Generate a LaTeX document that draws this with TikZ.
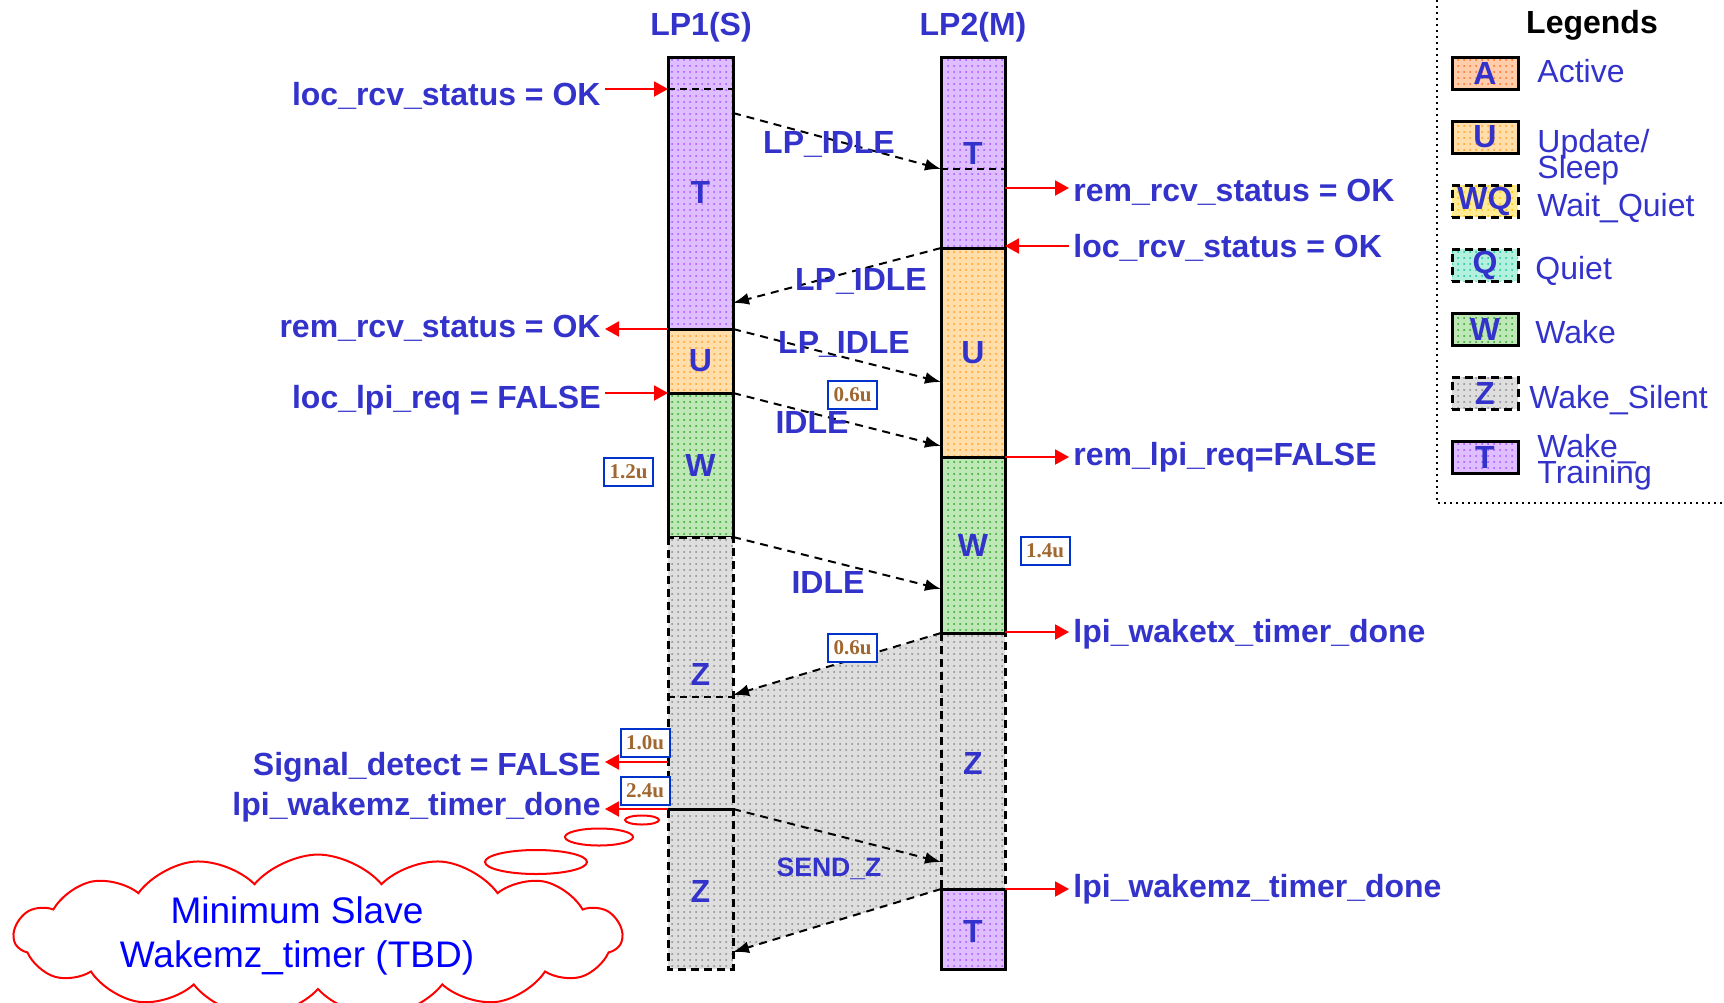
\documentclass[tikz,border=0pt]{standalone}
\usepackage{fontspec}
\setmainfont{Liberation Sans}
\newfontfamily\timesfont{Liberation Serif}
\usepackage{tikz}
\usetikzlibrary{positioning, arrows.meta, patterns, shapes.symbols, backgrounds}
\definecolor{lblblue}{RGB}{51, 51, 204}
\definecolor{boxblue}{RGB}{0, 51, 204}
\definecolor{timebrown}{RGB}{160, 104, 48}
\definecolor{cloudblue}{RGB}{0, 0, 255}
\definecolor{trainbg}{RGB}{222, 190, 255}
\definecolor{traindot}{RGB}{165, 80, 255}
\definecolor{updbg}{RGB}{255, 222, 170}
\definecolor{upddot}{RGB}{255, 155, 40}
\definecolor{wakebg}{RGB}{190, 232, 182}
\definecolor{wakedot}{RGB}{40, 160, 40}
\definecolor{silbg}{RGB}{222, 222, 222}
\definecolor{sildot}{RGB}{135, 135, 135}
\definecolor{actbg}{RGB}{255, 205, 170}
\definecolor{actdot}{RGB}{255, 105, 35}
\definecolor{wqbg}{RGB}{255, 235, 150}
\definecolor{wqdot}{RGB}{255, 195, 0}
\definecolor{qbg}{RGB}{180, 240, 222}
\definecolor{qdot}{RGB}{20, 195, 155}
\newcommand{\fsz}[2]{\fontsize{#1}{#2}\selectfont}
\newcommand{\tightlines}{\lineskiplimit -20pt\relax}

\begin{document}
\begin{tikzpicture}[
    x=0.5pt, y=-0.5pt,
    seg/.style={draw=black, line width=1.5pt},
    zseg/.style={draw=black, line width=1.5pt, dash pattern=on 4pt off 2.5pt},
    divider/.style={draw=black, line width=1pt, dash pattern=on 3.5pt off 2.5pt},
    segT/.style={preaction={fill=trainbg}, pattern=dots, pattern color=traindot},
    segU/.style={preaction={fill=updbg}, pattern=dots, pattern color=upddot},
    segW/.style={preaction={fill=wakebg}, pattern=dots, pattern color=wakedot},
    segZ/.style={preaction={fill=silbg}, pattern=dots, pattern color=sildot},
    segA/.style={preaction={fill=actbg}, pattern=dots, pattern color=actdot},
    segWQ/.style={preaction={fill=wqbg}, pattern=dots, pattern color=wqdot},
    segQ/.style={preaction={fill=qbg}, pattern=dots, pattern color=qdot},
    state/.style={font=\bfseries\fsz{16}{19}, text=lblblue, inner sep=0pt},
    lbl/.style={font=\bfseries\fsz{16}{19}, text=lblblue, inner xsep=2pt, inner ysep=0pt},
    msglbl/.style={font=\bfseries\fsz{16}{19}, text=lblblue, inner sep=0pt, anchor=base},
    msg/.style={-{Latex[length=8pt, width=6pt]}, line width=1pt, dash pattern=on 4pt off 3pt},
    sig/.style={-{Triangle[length=7pt, width=7.5pt]}, red, line width=1pt},
    tbox/.style={draw=boxblue, line width=1pt, fill=white,
        font=\timesfont\bfseries\fsz{10.5}{12}, text=timebrown,
        minimum width=24.5pt, minimum height=14pt, inner sep=0pt},
    legbox/.style={seg, minimum width=33pt, minimum height=16pt, inner sep=0pt,
        font=\bfseries\fsz{16}{19}, text=lblblue},
    legtxt/.style={font=\fsz{16}{13}\tightlines, text=lblblue, inner sep=0pt,
        align=left, anchor=base west},
    bubble/.style={draw=red, line width=1pt},
]
\useasboundingbox (0,0) rectangle (1724,1002);

% Event points on the column edges
\coordinate (s1) at (733,113);  \coordinate (t1) at (941,169);
\coordinate (s2) at (941,248);  \coordinate (t2) at (733,303);
\coordinate (s3) at (733,329);  \coordinate (t3) at (941,382);
\coordinate (s4) at (733,393);  \coordinate (t4) at (941,446);
\coordinate (s5) at (733,537);  \coordinate (t5) at (941,589);
\coordinate (s6) at (941,633);  \coordinate (t6) at (733,695);
\coordinate (s7) at (733,809);  \coordinate (t7) at (941,862);
\coordinate (s8) at (941,889);  \coordinate (t8) at (733,952);

% Silent band between the columns
\fill[segZ] (t6) -- (s6) -- (s8) -- (t8) -- cycle;

% LP1 column
\draw[seg, segT] (668,57) rectangle (733,329);
\draw[divider] (668,89) -- (733,89);
\draw[seg, segU] (668,329) rectangle (733,393);
\draw[seg, segW] (668,393) rectangle (733,537);
\draw[zseg, segZ] (668,537) rectangle (733,969);
\draw[divider] (668,697) -- (733,697);
\draw[line width=1.5pt] (668,809) -- (733,809);

% LP2 column
\draw[zseg, segZ] (941,633) rectangle (1005,889);
\draw[seg, segT] (941,57) rectangle (1005,248);
\draw[divider] (941,169) -- (1005,169);
\draw[seg, segU] (941,248) rectangle (1005,457);
\draw[seg, segW] (941,457) rectangle (1005,633);
\draw[seg, segT] (941,889) rectangle (1005,969);

% State letters
\node[state] (p1T)  at (700.5,192) {T};
\node[state] (p1U)  at (700.5,361) {U};
\node[state] (p1W)  at (700.5,465) {W};
\node[state] (p1Za) at (700.5,674) {Z};
\node[state] (p1Zb) at (700.5,891) {Z};
\node[state] (p2Ta) at (973,153) {T};
\node[state] (p2U)  at (973,353) {U};
\node[state] (p2W)  at (973,545) {W};
\node[state] (p2Z)  at (973,763) {Z};
\node[state] (p2Tb) at (973,931) {T};

% Column titles
\node[msglbl] (lp1) at (701,35) {LP1(S)};
\node[msglbl] (lp2) at (973,35) {LP2(M)};

% Messages between the link partners
\draw[msg] (s1) -- (t1);
\draw[msg] (s2) -- (t2);
\draw[msg] (s3) -- (t3);
\draw[msg] (s4) -- (t4);
\draw[msg] (s5) -- (t5);
\draw[msg] (s6) -- (t6);
\draw[msg] (s7) -- (t7);
\draw[msg] (s8) -- (t8);

\node[msglbl] (m1) at (829,153) {LP\_IDLE};
\node[msglbl] (m2) at (861,290) {LP\_IDLE};
\node[msglbl] (m3) at (844,353) {LP\_IDLE};
\node[msglbl] (m4) at (812,433) {IDLE};
\node[msglbl] (m5) at (828,593) {IDLE};
\node[msglbl, font=\bfseries\fsz{13.3}{16}] (m7) at (829,876) {SEND\_Z};

% Time boxes
\node[tbox] (d06a) at (852.5,395)   {0.6u};
\node[tbox] (d12)  at (628.5,471.5) {1.2u};
\node[tbox] (d14)  at (1045,551)    {1.4u};
\node[tbox] (d06b) at (852.5,647.5) {0.6u};
\node[tbox] (d10)  at (645,743)     {1.0u};
\node[tbox] (d24)  at (645,791)     {2.4u};

% LP1 signals
\coordinate (c1) at (668,89);
\coordinate (c2) at (668,329);
\coordinate (c3) at (668,393);
\coordinate (c4) at (668,762);
\coordinate (c5) at (668,809);
\node[lbl, anchor=base east] (l1) at (605,105) {loc\_rcv\_status = OK};
\node[lbl, anchor=base east] (l2) at (605,337) {rem\_rcv\_status = OK};
\node[lbl, anchor=base east] (l3) at (605,408) {loc\_lpi\_req = FALSE};
\node[lbl, anchor=base east] (l4) at (605,775) {Signal\_detect = FALSE};
\node[lbl, anchor=base east] (l5) at (605,815) {lpi\_wakemz\_timer\_done};
\draw[sig] (l1.east |- c1) -- (c1);
\draw[sig] (c2) -- (l2.east |- c2);
\draw[sig] (l3.east |- c3) -- (c3);
\draw[sig] (c4) -- (l4.east |- c4);
\draw[sig] (c5) -- (l5.east |- c5);

% LP2 signals
\coordinate (e1) at (1005,188);
\coordinate (e2) at (1005,246);
\coordinate (e3) at (1005,457);
\coordinate (e4) at (1005,632);
\coordinate (e5) at (1005,889);
\node[lbl, anchor=base west] (r1) at (1069,201) {rem\_rcv\_status = OK};
\node[lbl, anchor=base west] (r2) at (1069,257) {loc\_rcv\_status = OK};
\node[lbl, anchor=base west] (r3) at (1069,465) {rem\_lpi\_req=FALSE};
\node[lbl, anchor=base west] (r4) at (1069,642) {lpi\_waketx\_timer\_done};
\node[lbl, anchor=base west] (r5) at (1069,897) {lpi\_wakemz\_timer\_done};
\draw[sig] (e1) -- (r1.west |- e1);
\draw[sig] (r2.west |- e2) -- (e2);
\draw[sig] (e3) -- (r3.west |- e3);
\draw[sig] (e4) -- (r4.west |- e4);
\draw[sig] (e5) -- (r5.west |- e5);

% Thought cloud
\draw[bubble] (642,820) ellipse [x radius=17, y radius=4.5];
\draw[bubble] (599,837) ellipse [x radius=34, y radius=8.5];
\draw[bubble] (536,862) ellipse [x radius=51, y radius=12];
\node[cloud, draw=red, line width=1pt, cloud puffs=15, cloud puff arc=100,
      cloud ignores aspect, minimum width=304pt, minimum height=38pt, inner sep=0pt,
      font=\fsz{18.5}{22}, text=cloudblue, align=center] (note) at (318,936)
    {Minimum Slave\kern21pt\\Wakemz\_timer (TBD)\kern21pt};

% Legend
\draw[dotted, line width=1pt] (1437,0) -- (1437,503) -- (1724,503);
\node[font=\bfseries\fsz{16}{19}, inner sep=0pt, anchor=base] (legtitle) at (1592,33) {Legends};
\node[legbox, segA] (kA) at (1485,73) {A};
\node[legbox, segU] (kU) at (1485,137) {U};
\node[legbox, segWQ, dash pattern=on 4pt off 2.5pt] (kWQ) at (1485,201) {WQ};
\node[legbox, segQ, dash pattern=on 4pt off 2.5pt] (kQ) at (1485,265) {Q};
\node[legbox, segW] (kW) at (1485,329) {W};
\node[legbox, segZ, dash pattern=on 4pt off 2.5pt] (kZ) at (1485,393) {Z};
\node[legbox, segT] (kT) at (1485,457) {T};
\node[legtxt] (tA) at (1537,82) {Active};
\node[legtxt] (tU) at (1537,178) {Update/\\Sleep};
\node[legtxt] (tWQ) at (1537,216) {Wait\_Quiet};
\node[legtxt] (tQ) at (1535,279) {Quiet};
\node[legtxt] (tW) at (1535,343) {Wake};
\node[legtxt] (tZ) at (1529,408) {Wake\_Silent};
\node[legtxt] (tT) at (1537,483) {Wake\_\\Training};

\end{tikzpicture}
\end{document}
